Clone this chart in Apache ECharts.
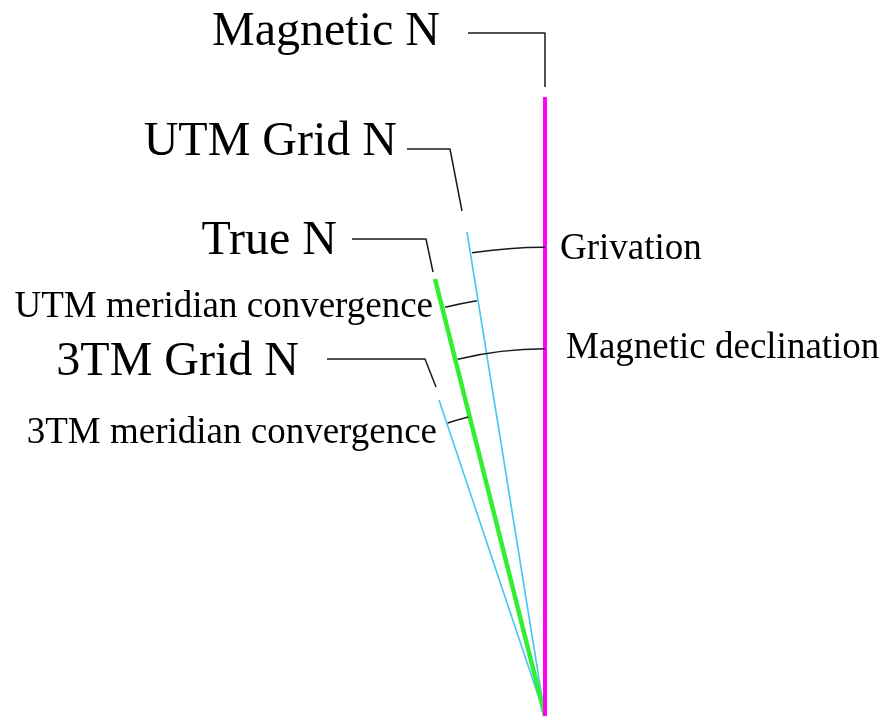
<!DOCTYPE html>
<html>
<head>
<meta charset="utf-8">
<script src="https://cdn.jsdelivr.net/npm/echarts@6/dist/echarts.min.js"></script>
<style>
html,body{margin:0;padding:0;background:#fff;}
#chart{width:886px;height:719px;}
</style>
</head>
<body>
<div id="chart"></div>
<script>
// ---- data (diagram coordinates, 1 unit = 1 px, y downward) ----
const origin = [545, 716];
const northNames = ['Magnetic N', 'UTM Grid N', 'True N', '3TM Grid N'];
const northTops = [[545, 97], [467, 232], [435, 279], [439, 400]];
const leaderPaths = [
  [[468, 33], [545, 33], [545, 87]],
  [[407, 149], [450, 149], [462, 211]],
  [[352, 239], [426, 239], [433, 272]],
  [[327, 359], [425, 359], [436, 387]]
];
const northLabelPos = [[440, 32], [397, 142], [337, 241], [299, 362]];
const angleNames = ['Grivation', 'Magnetic declination', 'UTM meridian convergence', '3TM meridian convergence'];
const angleArcEnds = [
  [[472, 253], [545, 247]],
  [[458, 360], [545, 348]],
  [[445, 307], [477, 301]],
  [[448, 424], [468, 416]]
];
const angleLabelPos = [[560, 249], [566, 348], [433, 307], [437, 433]];
const angleLabelAlign = ['left', 'left', 'right', 'right'];

// ---- styles ----
const northColors = ['#ff00ff', '#4cc6ee', '#33ee33', '#4cc6ee'];
const northWidths = [4, 1.6, 4.5, 1.6];
const inkColor = '#1a1a1a';
const serif = '"Liberation Serif", "Times New Roman", serif';

const chart = echarts.init(document.getElementById('chart'), null, {renderer: 'canvas'});
const series = [];

// leader lines
leaderPaths.forEach((p, i) => {
  series.push({
    type: 'line', name: 'leader ' + northNames[i], data: p, symbol: 'none',
    lineStyle: {color: inkColor, width: 1.5}, silent: true, z: 2
  });
});
// north lines (green over blue, magenta on top)
[1, 3, 2, 0].forEach(i => {
  series.push({
    type: 'line', name: northNames[i], data: [northTops[i], origin], symbol: 'none',
    lineStyle: {color: northColors[i], width: northWidths[i], cap: 'butt'}, silent: true, z: 3
  });
});
// angle arcs, centred on the common origin
series.push({
  type: 'custom', name: 'arcs', silent: true, z: 4,
  data: angleArcEnds.map((e, i) => ({name: angleNames[i], value: [e[0][0], e[0][1], e[1][0], e[1][1]]})),
  renderItem: function (params, api) {
    const c = api.coord(origin);
    const a = api.coord([api.value(0), api.value(1)]);
    const b = api.coord([api.value(2), api.value(3)]);
    const ra = Math.hypot(a[0] - c[0], a[1] - c[1]);
    const rb = Math.hypot(b[0] - c[0], b[1] - c[1]);
    const r = (ra + rb) / 2;
    const t1 = Math.atan2(a[1] - c[1], a[0] - c[0]);
    const t2 = Math.atan2(b[1] - c[1], b[0] - c[0]);
    return {
      type: 'arc',
      shape: {cx: c[0], cy: c[1], r: r, startAngle: Math.min(t1, t2), endAngle: Math.max(t1, t2), clockwise: true},
      style: {stroke: inkColor, lineWidth: 1.5, fill: null}
    };
  }
});
// text labels
function textSeries(names, pos, aligns, size) {
  return {
    type: 'custom', silent: true, z: 5,
    data: names.map((n, i) => ({name: n, value: pos[i]})),
    renderItem: function (params, api) {
      const p = api.coord([api.value(0), api.value(1)]);
      const i = params.dataIndex;
      return {
        type: 'text', x: p[0], y: p[1],
        style: {
          text: names[i], fill: '#000', fontSize: size, fontFamily: serif,
          align: aligns[i], verticalAlign: 'middle'
        }
      };
    }
  };
}
series.push(textSeries(northNames, northLabelPos, ['right', 'right', 'right', 'right'], 48));
series.push(textSeries(angleNames, angleLabelPos, angleLabelAlign, 37));

chart.setOption({
  backgroundColor: '#fff',
  animation: false,
  grid: {left: 0, right: 0, top: 0, bottom: 0},
  xAxis: {type: 'value', min: 0, max: 886, show: false},
  yAxis: {type: 'value', min: 0, max: 719, inverse: true, show: false},
  series: series
});
</script>
</body>
</html>
